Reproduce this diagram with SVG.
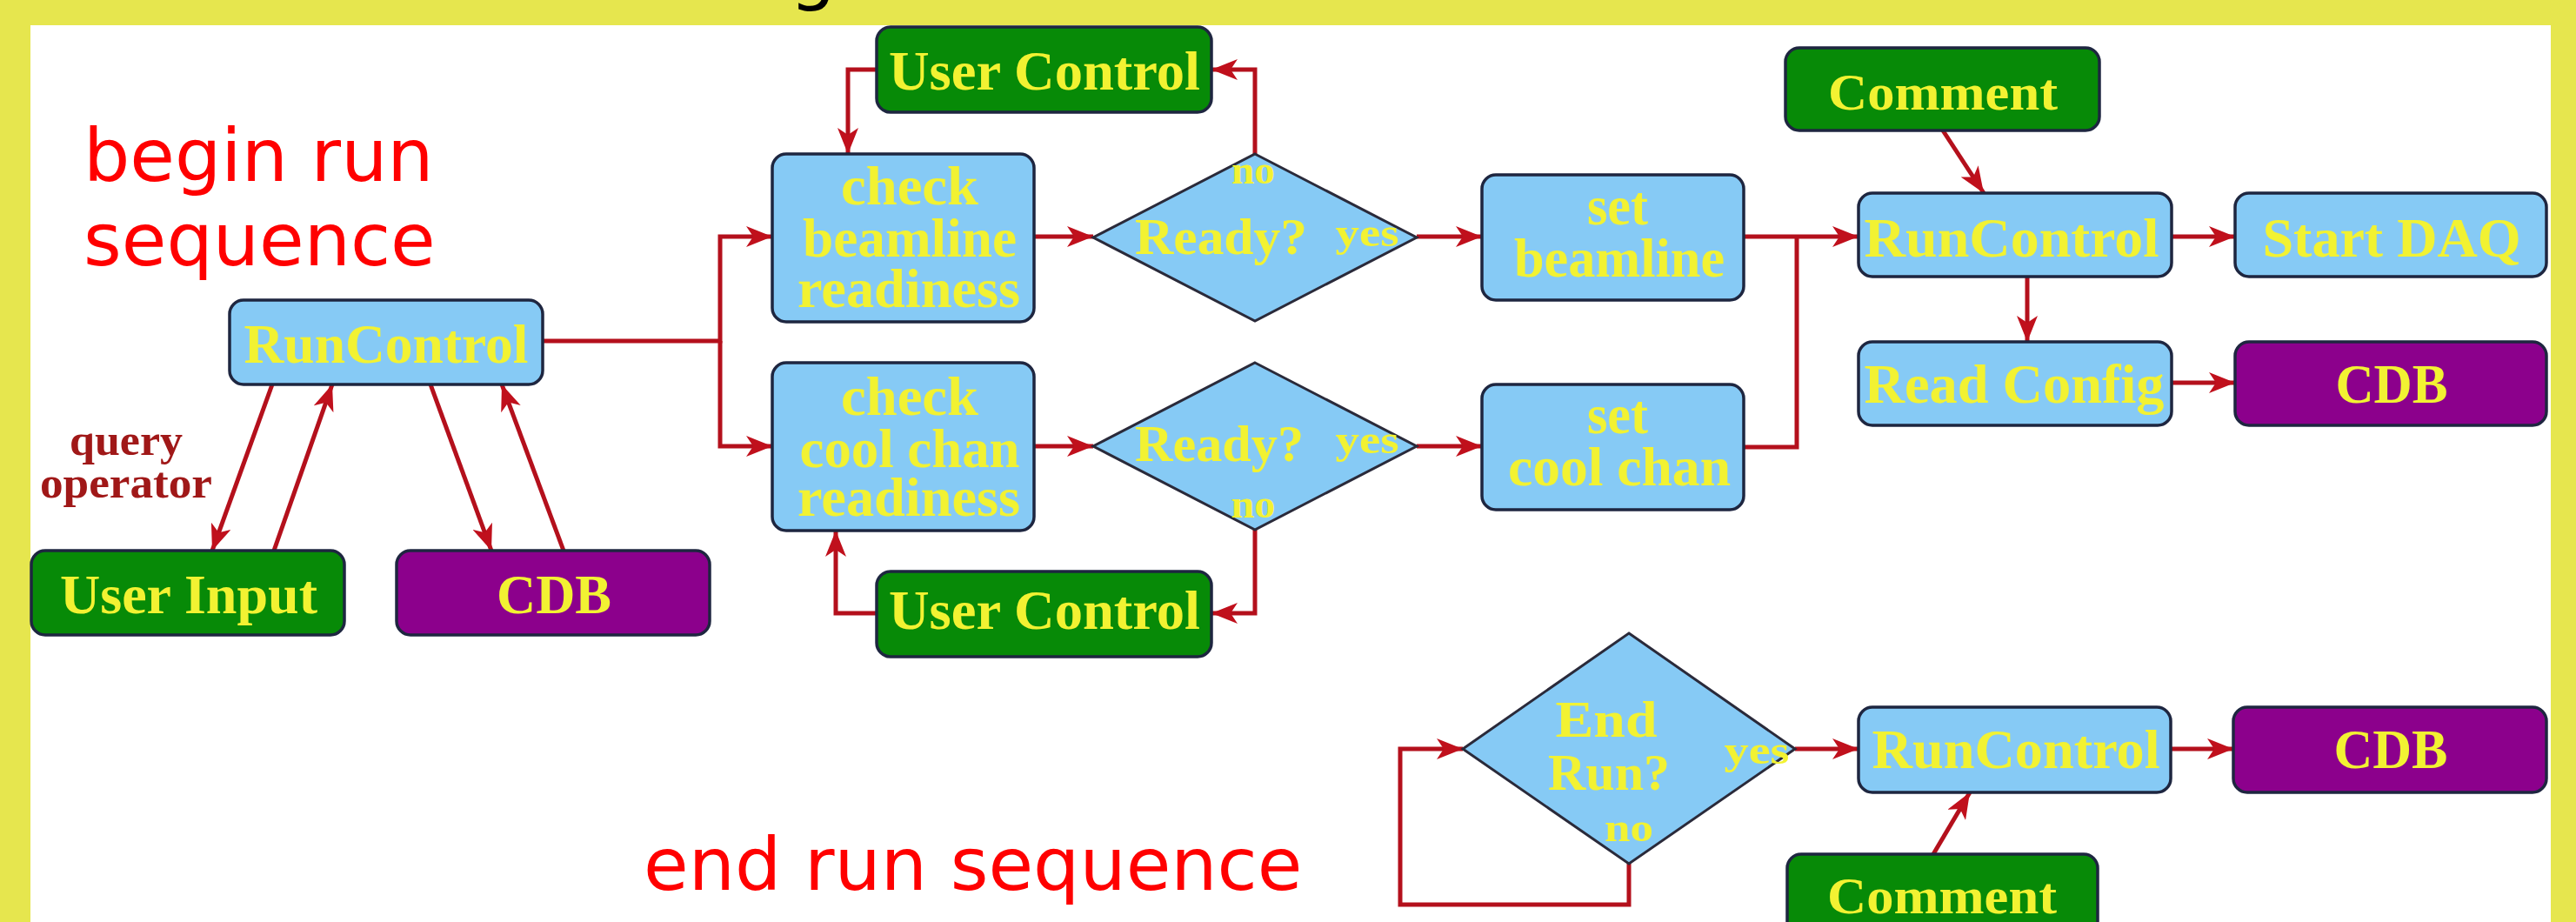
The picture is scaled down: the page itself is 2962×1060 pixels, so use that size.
<svg xmlns="http://www.w3.org/2000/svg" width="2962" height="1060" viewBox="0 0 2962 1060">
  <defs>
    <marker id="head" viewBox="0 0 30 24" markerUnits="userSpaceOnUse" markerWidth="30" markerHeight="24" refX="30" refY="12" orient="auto">
      <path d="M0,0 L30,12 L0,24 L8,12 z" fill="#C0101C"/>
    </marker>
  </defs>
  <style>
    .box { stroke: #1E2640; stroke-width: 3.5; }
    .blue { fill: #86CAF5; }
    .green { fill: #078A07; }
    .purple { fill: #8C008C; }
    .dia { fill: #86CAF5; stroke: #2A2A3A; stroke-width: 3; }
    .lbl { font-family: "Liberation Serif", "Times New Roman", serif; font-weight: bold; fill: #F2F232; text-anchor: middle; }
    .big { font-size: 64px; }
    .mid { font-size: 60px; }
    .small { font-size: 46px; }
    .note { font-family: "Liberation Serif", "Times New Roman", serif; font-weight: bold; fill: #A01818; font-size: 50px; text-anchor: middle; }
    .red { font-family: "DejaVu Sans", sans-serif; fill: #FF0000; font-size: 84px; }
    .wire { fill: none; stroke: #B4101C; stroke-width: 5; }
    .arrow { marker-end: url(#head); }
  </style>

  <!-- frame -->
  <rect x="0" y="0" width="2962" height="1060" fill="#E6E64E"/>
  <rect x="35" y="29" width="2898" height="1040" fill="#FFFFFF"/>
  <text x="908" y="-4" font-family="DejaVu Sans, sans-serif" font-size="84" fill="#000000">g</text>

  <!-- section captions -->
  <text class="red" x="96" y="208">begin run</text>
  <text class="red" x="96" y="305">sequence</text>
  <text class="red" x="740" y="1023">end run sequence</text>

  <!-- connectors -->
  <g id="connectors">
    <path class="wire arrow" d="M624,392 H828 V272 H888"/>
    <path class="wire arrow" d="M828,392 V513 H888"/>
    <path class="wire arrow" d="M313,442 L244,633"/>
    <path class="wire arrow" d="M315,633 L382,442"/>
    <path class="wire arrow" d="M495,442 L565,633"/>
    <path class="wire arrow" d="M648,633 L577,442"/>
    <path class="wire arrow" d="M1189,272 H1257"/>
    <path class="wire arrow" d="M1629,272 H1704"/>
    <path class="wire arrow" d="M1443,177 V80 H1393"/>
    <path class="wire arrow" d="M1008,80 H975 V177"/>
    <path class="wire arrow" d="M1189,513 H1257"/>
    <path class="wire arrow" d="M1629,513 H1704"/>
    <path class="wire arrow" d="M1443,609 V705 H1393"/>
    <path class="wire arrow" d="M1008,705 H961 V610"/>
    <path class="wire arrow" d="M2005,272 H2137"/>
    <path class="wire" d="M2005,514 H2066 V272"/>
    <path class="wire arrow" d="M2234,150 L2281,222"/>
    <path class="wire arrow" d="M2497,272 H2570"/>
    <path class="wire arrow" d="M2331,318 V393"/>
    <path class="wire arrow" d="M2497,440 H2570"/>
    <path class="wire arrow" d="M2064,861 H2137"/>
    <path class="wire arrow" d="M2496,861 H2568"/>
    <path class="wire arrow" d="M2223,982 L2265,911"/>
    <path class="wire arrow" d="M1873,993 V1040 H1610 V861 H1682"/>
  </g>

  <!-- begin run sequence -->
  <g id="runcontrol-begin">
    <rect class="box blue" x="264" y="345" width="360" height="97" rx="16"/>
    <text class="lbl big" x="444" y="417" textLength="327" lengthAdjust="spacingAndGlyphs">RunControl</text>
  </g>
  <g id="query-operator">
    <text class="note" x="145" y="523" textLength="130" lengthAdjust="spacingAndGlyphs">query</text>
    <text class="note" x="145" y="572" textLength="198" lengthAdjust="spacingAndGlyphs">operator</text>
  </g>
  <g id="user-input">
    <rect class="box green" x="36" y="633" width="360" height="97" rx="16"/>
    <text class="lbl big" x="217" y="705" textLength="296" lengthAdjust="spacingAndGlyphs">User Input</text>
  </g>
  <g id="cdb-begin">
    <rect class="box purple" x="456" y="633" width="360" height="97" rx="16"/>
    <text class="lbl big" x="637" y="705" textLength="132" lengthAdjust="spacingAndGlyphs">CDB</text>
  </g>

  <!-- beamline branch -->
  <g id="user-control-beamline">
    <rect class="box green" x="1008" y="31" width="385" height="98" rx="16"/>
    <text class="lbl big" x="1201" y="103" textLength="358" lengthAdjust="spacingAndGlyphs">User Control</text>
  </g>
  <g id="check-beamline">
    <rect class="box blue" x="888" y="177" width="301" height="193" rx="16"/>
    <text class="lbl big" x="1046" y="235" textLength="158" lengthAdjust="spacingAndGlyphs">check</text>
    <text class="lbl big" x="1046" y="295" textLength="246" lengthAdjust="spacingAndGlyphs">beamline</text>
    <text class="lbl big" x="1045" y="353" textLength="256" lengthAdjust="spacingAndGlyphs">readiness</text>
  </g>
  <g id="ready-beamline">
    <polygon class="dia" points="1443,177 1629,273 1443,369 1257,273"/>
    <text class="lbl small" x="1441" y="211" textLength="50" lengthAdjust="spacingAndGlyphs">no</text>
    <text class="lbl mid" x="1404" y="292" textLength="198" lengthAdjust="spacingAndGlyphs">Ready?</text>
    <text class="lbl small" x="1572" y="283" textLength="73" lengthAdjust="spacingAndGlyphs">yes</text>
  </g>
  <g id="set-beamline">
    <rect class="box blue" x="1704" y="201" width="301" height="144" rx="16"/>
    <text class="lbl big" x="1860" y="258" textLength="70" lengthAdjust="spacingAndGlyphs">set</text>
    <text class="lbl big" x="1862" y="318" textLength="242" lengthAdjust="spacingAndGlyphs">beamline</text>
  </g>

  <!-- cooling channel branch -->
  <g id="check-cool-chan">
    <rect class="box blue" x="888" y="417" width="301" height="193" rx="16"/>
    <text class="lbl big" x="1046" y="477" textLength="158" lengthAdjust="spacingAndGlyphs">check</text>
    <text class="lbl big" x="1046" y="537" textLength="253" lengthAdjust="spacingAndGlyphs">cool chan</text>
    <text class="lbl big" x="1045" y="593" textLength="256" lengthAdjust="spacingAndGlyphs">readiness</text>
  </g>
  <g id="ready-cool-chan">
    <polygon class="dia" points="1443,417 1629,513 1443,609 1257,513"/>
    <text class="lbl mid" x="1402" y="530" textLength="194" lengthAdjust="spacingAndGlyphs">Ready?</text>
    <text class="lbl small" x="1572" y="521" textLength="73" lengthAdjust="spacingAndGlyphs">yes</text>
    <text class="lbl small" x="1441" y="595" textLength="51" lengthAdjust="spacingAndGlyphs">no</text>
  </g>
  <g id="set-cool-chan">
    <rect class="box blue" x="1704" y="442" width="301" height="144" rx="16"/>
    <text class="lbl big" x="1860" y="498" textLength="70" lengthAdjust="spacingAndGlyphs">set</text>
    <text class="lbl big" x="1862" y="558" textLength="256" lengthAdjust="spacingAndGlyphs">cool chan</text>
  </g>
  <g id="user-control-cool-chan">
    <rect class="box green" x="1008" y="657" width="385" height="98" rx="16"/>
    <text class="lbl big" x="1201" y="723" textLength="358" lengthAdjust="spacingAndGlyphs">User Control</text>
  </g>

  <!-- start of data taking -->
  <g id="comment-begin">
    <rect class="box green" x="2053" y="55" width="361" height="95" rx="16"/>
    <text class="lbl mid" x="2234" y="126" textLength="264" lengthAdjust="spacingAndGlyphs">Comment</text>
  </g>
  <g id="runcontrol-start">
    <rect class="box blue" x="2137" y="222" width="360" height="96" rx="16"/>
    <text class="lbl big" x="2313" y="295" textLength="339" lengthAdjust="spacingAndGlyphs">RunControl</text>
  </g>
  <g id="start-daq">
    <rect class="box blue" x="2570" y="222" width="358" height="96" rx="16"/>
    <text class="lbl big" x="2750" y="295" textLength="297" lengthAdjust="spacingAndGlyphs">Start DAQ</text>
  </g>
  <g id="read-config">
    <rect class="box blue" x="2137" y="393" width="360" height="96" rx="16"/>
    <text class="lbl big" x="2316" y="463" textLength="345" lengthAdjust="spacingAndGlyphs">Read Config</text>
  </g>
  <g id="cdb-config">
    <rect class="box purple" x="2570" y="393" width="358" height="96" rx="16"/>
    <text class="lbl big" x="2750" y="463" textLength="129" lengthAdjust="spacingAndGlyphs">CDB</text>
  </g>

  <!-- end run sequence -->
  <g id="end-run">
    <polygon class="dia" points="1873,728 2064,861 1873,993 1682,861"/>
    <text class="lbl mid" x="1847" y="847" textLength="117" lengthAdjust="spacingAndGlyphs">End</text>
    <text class="lbl mid" x="1850" y="908" textLength="140" lengthAdjust="spacingAndGlyphs">Run?</text>
    <text class="lbl small" x="2020" y="878" textLength="75" lengthAdjust="spacingAndGlyphs">yes</text>
    <text class="lbl small" x="1873" y="967" textLength="56" lengthAdjust="spacingAndGlyphs">no</text>
  </g>
  <g id="runcontrol-end">
    <rect class="box blue" x="2137" y="813" width="359" height="98" rx="16"/>
    <text class="lbl big" x="2318" y="883" textLength="331" lengthAdjust="spacingAndGlyphs">RunControl</text>
  </g>
  <g id="cdb-end">
    <rect class="box purple" x="2568" y="813" width="360" height="98" rx="16"/>
    <text class="lbl big" x="2749" y="883" textLength="131" lengthAdjust="spacingAndGlyphs">CDB</text>
  </g>
  <g id="comment-end">
    <rect class="box green" x="2055" y="982" width="357" height="93" rx="16"/>
    <text class="lbl mid" x="2233" y="1050" textLength="264" lengthAdjust="spacingAndGlyphs">Comment</text>
  </g>
</svg>
